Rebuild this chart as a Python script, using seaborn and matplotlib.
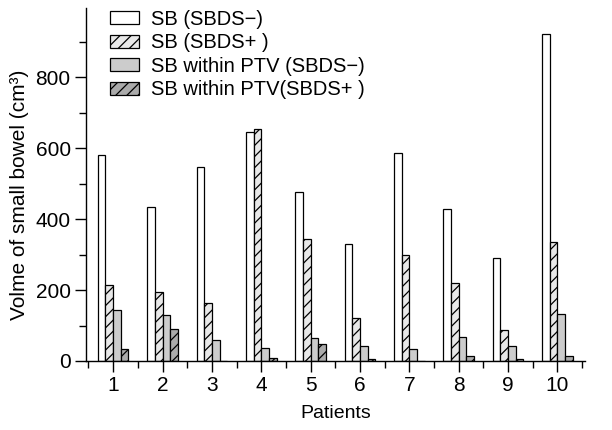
import pandas as pd
import seaborn as sns
import matplotlib.pyplot as plt
from matplotlib.ticker import MultipleLocator

# values (cm^3)
patients = [1, 2, 3, 4, 5, 6, 7, 8, 9, 10]
sb_minus = [580, 434, 546, 645, 476, 330, 586, 428, 290, 921]
sb_plus = [214, 194, 163, 653, 344, 121, 299, 220, 87, 335]
ptv_minus = [144, 130, 59, 37, 65, 42, 34, 68, 42, 132]
ptv_plus = [34, 90, 0, 8, 48, 5, 0, 14, 5, 14]

series = ['SB (SBDS\u2212)', 'SB (SBDS+ )', 'SB within PTV (SBDS\u2212)', 'SB within PTV(SBDS+ )']
colors = ['#ffffff', '#e8e8e8', '#cccccc', '#ababab']
hatches = ['', '///', '', '///']

df = pd.DataFrame({
    'patient': patients * 4,
    'value': sb_minus + sb_plus + ptv_minus + ptv_plus,
    'series': [s for s in series for _ in patients],
})

sns.set_style('ticks')
plt.rcParams['font.family'] = ['Liberation Sans', 'DejaVu Sans']
plt.rcParams['hatch.linewidth'] = 0.9
plt.rcParams['text.color'] = 'black'
plt.rcParams['axes.labelcolor'] = 'black'
plt.rcParams['xtick.labelcolor'] = 'black'
plt.rcParams['ytick.labelcolor'] = 'black'

fig = plt.figure(figsize=(6.12, 4.3), dpi=100)
ax = fig.add_axes([0.1405, 0.1605, 0.8155, 0.8205])

sns.barplot(data=df, x='patient', y='value', hue='series', hue_order=series,
            palette=colors, width=0.62, native_scale=True, edgecolor='black',
            linewidth=0.9, saturation=1, errorbar=None, legend=False, ax=ax)

for cont, h in zip(ax.containers, hatches):
    for bar in cont:
        bar.set_hatch(h)

ax.set_xlim(0.45, 10.56)
ax.set_ylim(0, 995)
ax.set_xticks(patients)
ax.xaxis.set_minor_locator(MultipleLocator(1, offset=0.5))
ax.yaxis.set_major_locator(MultipleLocator(200))
ax.yaxis.set_minor_locator(MultipleLocator(100))
ax.tick_params(which='major', length=8, width=1, labelsize=15, color='black', pad=3)
ax.tick_params(which='minor', length=5, width=1, color='black')
sns.despine(ax=ax)
for sp in ['left', 'bottom']:
    ax.spines[sp].set_linewidth(1)
    ax.spines[sp].set_color('black')

ax.set_xlabel('Patients', fontsize=14, labelpad=7)
ax.set_ylabel('Volme of small bowel (cm\u00b3)', fontsize=15)
ax.yaxis.set_label_coords(-0.115, 0.47)

ax.legend(ax.containers, series, loc='upper left', bbox_to_anchor=(0.048, 0.995),
          frameon=False, fontsize=14.5, borderpad=0, borderaxespad=0,
          handlelength=1.45, handleheight=0.6, handletextpad=0.6,
          labelspacing=0.22)

fig.savefig('out.png', dpi=100)
